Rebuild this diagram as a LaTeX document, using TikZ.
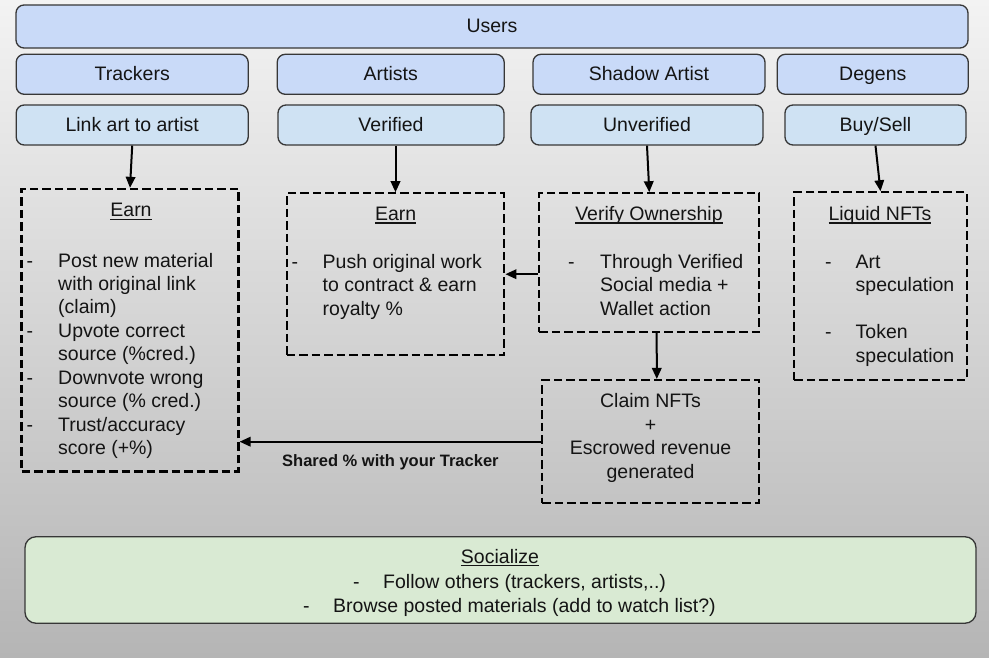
\documentclass[tikz,border=0pt]{standalone}
\usepackage{fontspec}
\setmainfont{Liberation Sans}
\usetikzlibrary{arrows.meta,calc}
\definecolor{bgtop}{RGB}{243,243,243}
\definecolor{bgbot}{RGB}{181,181,181}
\definecolor{blueA}{RGB}{201,218,248}
\definecolor{blueB}{RGB}{207,226,243}
\definecolor{greenA}{RGB}{217,234,211}
\definecolor{edge}{RGB}{55,55,55}
\definecolor{ink}{RGB}{20,20,20}
\newcommand\txtfont{\fontsize{19.5}{23.5}\selectfont}
\newcommand\uline[1]{\leavevmode\setbox0\hbox{#1}\rlap{\rule[-3pt]{\wd0}{1.4pt}}\box0}
\begin{document}
\begin{tikzpicture}[x=1pt,y=-1pt,
  rbox/.style={draw=edge, line width=1.3pt, rounded corners=8pt, inner sep=0pt,
    font=\txtfont, text=ink, text height=13pt, text depth=0pt},
  dbox/.style={draw=black, line width=2.2pt, dash pattern=on 8.5pt off 4pt, inner sep=0pt},
  txt/.style={inner sep=0pt, font=\txtfont, text=ink, anchor=base west},
  head/.style={inner sep=0pt, font=\txtfont, text=ink, anchor=base},
  arr/.style={draw=black, line width=2pt, -{Triangle[length=11pt,width=9.5pt]}},
]
\shade[top color=bgtop, bottom color=bgbot] (0,0) rectangle (989,658);
\useasboundingbox (0,0) rectangle (989,658);

% top rows
\node[rbox, fill=blueA, minimum width=952pt, minimum height=43pt] (users) at (492,26.5) {Users};
\node[rbox, fill=blueA, minimum width=232pt, minimum height=40pt] (trackers) at (132.2,74.3) {Trackers};
\node[rbox, fill=blueA, minimum width=227pt, minimum height=40pt] (artists) at (390.7,74.3) {Artists};
\node[rbox, fill=blueA, minimum width=232pt, minimum height=40pt] (shadow) at (649,74.3) {Shadow Artist};
\node[rbox, fill=blueA, minimum width=191pt, minimum height=40pt] (degens) at (872.8,74.3) {Degens};

\node[rbox, fill=blueB, minimum width=232pt, minimum height=40pt] (link) at (132.2,125) {Link art to artist};
\node[rbox, fill=blueB, minimum width=226pt, minimum height=40pt] (verified) at (391,125) {Verified};
\node[rbox, fill=blueB, minimum width=232pt, minimum height=40pt] (unverified) at (647,125) {Unverified};
\node[rbox, fill=blueB, minimum width=181pt, minimum height=40pt] (buysell) at (875.5,125) {Buy/Sell};

% dashed boxes
\node[dbox, minimum width=217pt, minimum height=282.5pt] (earn1) at (130,330.2) {};
\node[dbox, minimum width=217.6pt, minimum height=161.7pt] (earn2) at (395.5,274.2) {};
\node[dbox, minimum width=220pt, minimum height=138.4pt] (verify) at (649.3,262.5) {};
\node[dbox, minimum width=217pt, minimum height=123.3pt] (claim) at (650.8,441.7) {};
\node[dbox, minimum width=172.4pt, minimum height=187.7pt] (liquid) at (880.5,286.2) {};

% texts in dashed boxes
\node[head] (earn1h) at (131,217) {\uline{Earn}};
\node[txt] (earn1t) at (26.5,267) {\begin{tabular}[t]{@{}p{31.5pt}@{}l@{}}
-&Post new material\\&with original link\\&(claim)\\
-&Upvote correct\\&source (\%cred.)\\
-&Downvote wrong\\&source (\% cred.)\\
-&Trust/accuracy\\&score (+\%)\end{tabular}};

\node[head] (earn2h) at (395.7,220.7) {\uline{Earn}};
\node[txt] (earn2t) at (291.5,268.3) {\begin{tabular}[t]{@{}p{31pt}@{}l@{}}
-&Push original work\\&to contract \& earn\\&royalty \%\end{tabular}};

\node[head] (verifyh) at (649,220.7) {\uline{Verify Ownership}};
\node[txt] (verifyt) at (568,268.3) {\begin{tabular}[t]{@{}p{32pt}@{}l@{}}
-&Through Verified\\&Social media +\\&Wallet action\end{tabular}};

\node[head] (liquidh) at (880,220.7) {\uline{Liquid NFTs}};
\node[txt] (liquidt) at (825,268.3) {\begin{tabular}[t]{@{}p{30.5pt}@{}l@{}}
-&Art\\&speculation\\&\\-&Token\\&speculation\end{tabular}};

\node[head] (claimt) at (650.5,407.7) {\begin{tabular}[t]{@{}c@{}}
Claim NFTs\\+\\Escrowed revenue\\generated\end{tabular}};

% socialize
\node[draw=edge, line width=1.3pt, rounded corners=11pt, fill=greenA, inner sep=0pt,
  minimum width=951pt, minimum height=86.5pt] (social) at (500.5,580) {};
\node[head] (socialh) at (500,563.3) {\uline{Socialize}};
\node[txt] (social1) at (353,588.3) {\makebox[30pt][l]{-}Follow others (trackers, artists,..)};
\node[txt] (social2) at (303,612.7) {\makebox[30pt][l]{-}Browse posted materials (add to watch list?)};

% arrows
\draw[arr] (link.south) -- (earn1.north);
\draw[arr] (verified.south -| earn2.north) -- (earn2.north);
\draw[arr] (unverified.south) -- (verify.north);
\draw[arr] (buysell.south) -- (liquid.north);
\draw[arr] (verify.west |- earn2.east) -- (earn2.east);
\draw[arr] ([xshift=7.4pt]verify.south) -- ([xshift=6pt]claim.north);
\draw[arr] (claim.west) -- (claim.west -| earn1.east)
  node[midway, below=12pt, inner sep=0pt, anchor=north, font=\fontsize{16.5}{20}\selectfont\bfseries, text=ink] (shared) {Shared \% with your Tracker};
\end{tikzpicture}
\end{document}
